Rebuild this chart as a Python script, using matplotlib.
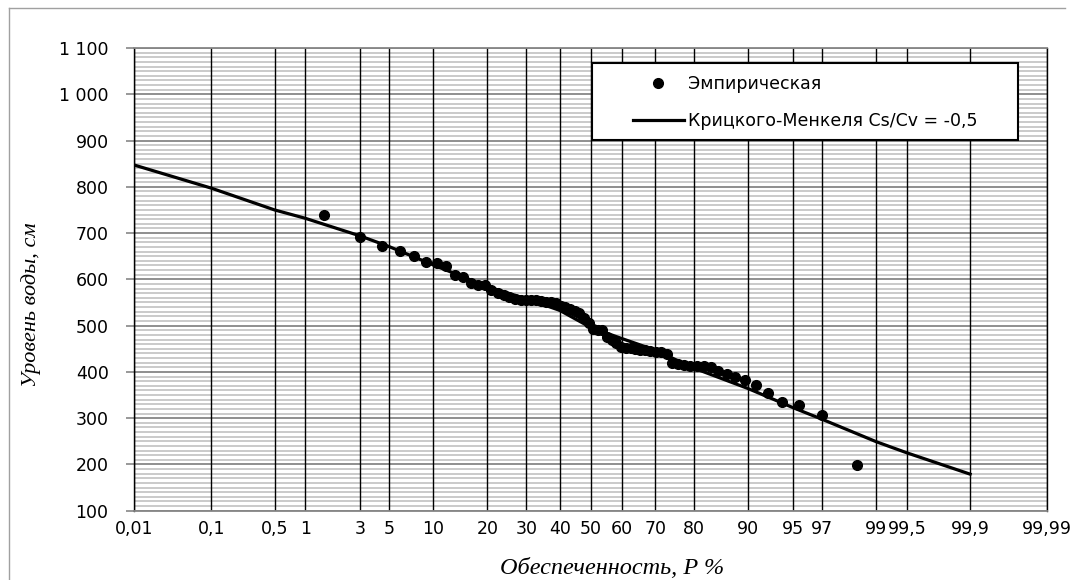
import numpy as np
import matplotlib
matplotlib.use("Agg")
import matplotlib.pyplot as plt
from matplotlib.ticker import MultipleLocator, NullLocator
from matplotlib.patches import Rectangle
from matplotlib.lines import Line2D
from statistics import NormalDist

# ---------------- data ----------------
# probability tick values (%) and their labels
p_ticks = [0.01, 0.1, 0.5, 1, 3, 5, 10, 20, 30, 40, 50, 60, 70, 80, 90, 95, 97, 99, 99.5, 99.9, 99.99]
p_tick_labels = ["0,01", "0,1", "0,5", "1", "3", "5", "10", "20", "30", "40", "50", "60", "70",
                 "80", "90", "95", "97", "99", "99,5", "99,9", "99,99"]

# empirical points: rank m of n = 66, P = m/(n+1)*100
emp_rank = list(range(1, 67))
emp_n = 66
emp_level = [738, 692, 672, 661, 650, 637, 636, 628, 610, 605,
             592, 588, 587, 578, 570, 566, 562, 558, 556, 555,
             555, 555, 554, 552, 550, 548, 543, 540, 536, 532,
             528, 517, 505, 493, 490, 490, 475, 468, 462, 454,
             452, 451, 450, 448, 447, 445, 444, 442, 438, 420,
             417, 414, 413, 412, 412, 411, 403, 395, 390, 383,
             372, 354, 336, 328, 307, 199]

# theoretical curve (Крицкого-Менкеля, Cs/Cv = -0,5)
curve_p = [0.01, 0.1, 0.5, 1, 3, 5, 10, 20, 30, 40, 50, 60, 70, 80, 90, 95, 97, 99, 99.5, 99.9]
curve_level = [847, 797, 750, 732, 694, 671, 631, 584, 558, 533, 496, 472, 447, 408, 364, 323, 298, 249, 225, 179]

y_ticks = [100, 200, 300, 400, 500, 600, 700, 800, 900, 1000, 1100]
y_tick_labels = ["100", "200", "300", "400", "500", "600", "700", "800", "900", "1 000", "1 100"]

# ---------------- probability scale ----------------
_nd = NormalDist()
_ppf = np.vectorize(_nd.inv_cdf, otypes=[float])
_cdf = np.vectorize(_nd.cdf, otypes=[float])


def fwd(p):
    p = np.asarray(p, dtype=float)
    q = np.clip(p / 100.0, 1e-12, 1 - 1e-12)
    return _ppf(q)


def inv(z):
    z = np.asarray(z, dtype=float)
    return _cdf(z) * 100.0


W, H = 1073, 580
fig = plt.figure(figsize=(W / 100, H / 100), dpi=100)
ax = fig.add_axes([134.3 / W, 1 - 510.7 / H, (1047.3 - 134.3) / W, (510.7 - 48.0) / H])

ax.set_xscale("function", functions=(fwd, inv))
ax.set_xlim(0.01, 99.99)
ax.set_ylim(100, 1100)

ax.set_xticks(p_ticks)
ax.set_xticklabels(p_tick_labels)
ax.xaxis.set_minor_locator(NullLocator())
ax.set_yticks(y_ticks)
ax.set_yticklabels(y_tick_labels)
ax.yaxis.set_minor_locator(MultipleLocator(10))

tick_font = "DejaVu Sans"
for lab in ax.get_xticklabels() + ax.get_yticklabels():
    lab.set_fontfamily(tick_font)
    lab.set_fontsize(12.5)
ax.tick_params(axis="x", which="both", length=0, pad=6.5)
ax.tick_params(axis="y", which="major", length=6, width=1.2, color="#868686", pad=12.5)
ax.tick_params(axis="y", which="minor", length=0)

ax.set_axisbelow(True)
ax.grid(which="major", axis="x", color="black", lw=1.0)
ax.grid(which="major", axis="y", color="#868686", lw=1.3)
ax.grid(which="minor", axis="y", color="#c6c6c6", lw=1.3)
ax.xaxis.set_zorder(0.7)
ax.yaxis.set_zorder(0.5)

for s in ("left", "right"):
    ax.spines[s].set_color("black")
    ax.spines[s].set_linewidth(1.0)
for s in ("top", "bottom"):
    ax.spines[s].set_color("#868686")
    ax.spines[s].set_linewidth(1.3)

emp_p = [m / (emp_n + 1) * 100 for m in emp_rank]
ax.plot(emp_p, emp_level, "o", color="black", ms=7, zorder=3, label="Эмпирическая")
ax.plot(curve_p, curve_level, "-", color="black", lw=2.3, zorder=2,
        label="Крицкого-Менкеля Cs/Cv = -0,5")

# axis titles
fig.text(611.7 / W, 1 - 569 / H, "Обеспеченность, P %", ha="center", va="center",
         family="Liberation Serif", style="italic", fontsize=17.5)
fig.text(31 / W, 1 - 305 / H, "Уровень воды, см", ha="center", va="center", rotation=90,
         family="Liberation Serif", style="italic", fontsize=16)

# legend box
ax.add_patch(Rectangle((592.3 / W, 1 - 140 / H), (1017.7 - 592.3) / W, (140 - 63.3) / H,
                       transform=fig.transFigure, facecolor="white", edgecolor="black",
                       lw=1.5, zorder=4))
leg = ax.legend(loc="center left", bbox_to_anchor=(633.3 / W, 1 - 102.5 / H),
                bbox_transform=fig.transFigure, frameon=False, borderpad=0,
                borderaxespad=0, handlelength=2.9, handletextpad=0.25, labelspacing=1.1,
                prop={"family": tick_font, "size": 12.5})
leg.set_zorder(5)

# outer chart border (left edge visible in the reference)
fig.add_artist(Line2D([8.5 / W, 8.5 / W], [0, 1 - 8 / H], transform=fig.transFigure,
                      color="#a0a0a0", lw=1.0))
fig.add_artist(Line2D([8.5 / W, 1065 / W], [1 - 8 / H, 1 - 8 / H], transform=fig.transFigure,
                      color="#a0a0a0", lw=1.0))

fig.savefig("out.png", dpi=100)
